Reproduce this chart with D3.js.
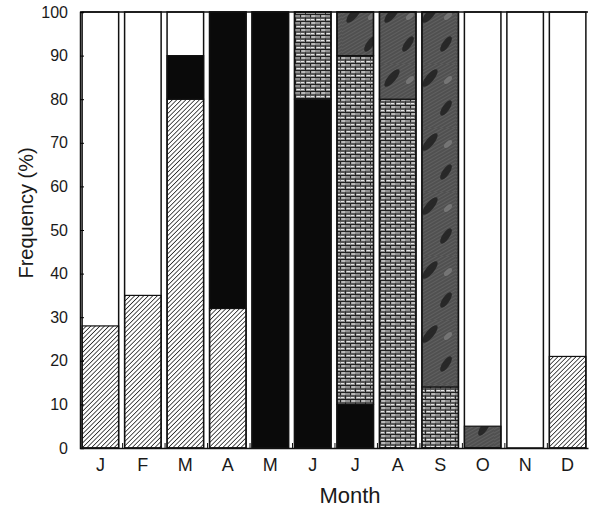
<!DOCTYPE html>
<html>
<head>
<meta charset="utf-8">
<script src="https://cdn.jsdelivr.net/npm/d3@7"></script>
<style>
  body { margin: 0; background: #fff; }
  text { font-family: "Liberation Sans", Arial, sans-serif; fill: #1a1a1a; }
</style>
</head>
<body>
<svg id="chart" width="590" height="510"></svg>
<script>
var months = ["J", "F", "M", "A", "M", "J", "J", "A", "S", "O", "N", "D"]
var hatched = [28, 35, 80, 32, 0, 0, 0, 0, 0, 0, 0, 21]
var black   = [0, 0, 10, 68, 100, 80, 10, 0, 0, 0, 0, 0]
var brick   = [0, 0, 0, 0, 0, 20, 80, 80, 14, 0, 0, 0]
var dark    = [0, 0, 0, 0, 0, 0, 10, 20, 86, 5, 0, 0]
var yTicks = [0, 10, 20, 30, 40, 50, 60, 70, 80, 90, 100]

var margin = { top: 12, bottom: 62, left: 80, right: 2 }
var width = 590, height = 510

var svg = d3.select("#chart")
var defs = svg.append("defs")

// diagonal hatch
var ph = defs.append("pattern").attr("id", "hatch")
    .attr("patternUnits", "userSpaceOnUse").attr("width", 3.2).attr("height", 3.2)
    .attr("patternTransform", "rotate(45)")
ph.append("rect").attr("width", 3.2).attr("height", 3.2).attr("fill", "#fff")
ph.append("line").attr("x1", 0).attr("y1", 0).attr("x2", 0).attr("y2", 3.2)
    .attr("stroke", "#1a1a1a").attr("stroke-width", 1.5)

// brick
var pb = defs.append("pattern").attr("id", "brick")
    .attr("patternUnits", "userSpaceOnUse").attr("width", 10).attr("height", 7)
pb.append("rect").attr("width", 10).attr("height", 7).attr("fill", "#8f8f8f")
pb.append("path").attr("d", "M0,0.5H10M0,4H10M0.5,0V3.5M5.5,3.5V7")
    .attr("stroke", "#222").attr("stroke-width", 1)
pb.append("path").attr("d", "M1.5,2H5M6.5,5.5H10M1,5.5H4")
    .attr("stroke", "#e6e6e6").attr("stroke-width", 1)

// dark grey, fine diagonal texture with soft dark streaks
var pd = defs.append("pattern").attr("id", "dark")
    .attr("patternUnits", "userSpaceOnUse").attr("width", 38).attr("height", 64)
pd.append("rect").attr("width", 38).attr("height", 64).attr("fill", "#5a5a5a")
var pdf = defs.append("pattern").attr("id", "darkfine")
    .attr("patternUnits", "userSpaceOnUse").attr("width", 3).attr("height", 3)
    .attr("patternTransform", "rotate(60)")
pdf.append("rect").attr("width", 3).attr("height", 3).attr("fill", "#505050")
pdf.append("line").attr("x1", 0).attr("y1", 0).attr("x2", 0).attr("y2", 3)
    .attr("stroke", "#707070").attr("stroke-width", 1)
pd.append("rect").attr("width", 38).attr("height", 64).attr("fill", "url(#darkfine)")
pd.append("ellipse").attr("cx", 12).attr("cy", 14).attr("rx", 11).attr("ry", 4)
    .attr("transform", "rotate(-50,12,14)").attr("fill", "#202020").attr("opacity", 0.85)
pd.append("ellipse").attr("cx", 28).attr("cy", 44).attr("rx", 9).attr("ry", 3.5)
    .attr("transform", "rotate(-55,28,44)").attr("fill", "#202020").attr("opacity", 0.85)
pd.append("ellipse").attr("cx", 30).attr("cy", 16).attr("rx", 5).attr("ry", 2.5)
    .attr("transform", "rotate(-45,30,16)").attr("fill", "#888").attr("opacity", 0.6)

var fills = { hatched: "url(#hatch)", black: "#0a0a0a", brick: "url(#brick)", dark: "url(#dark)" }

var xScale = d3.scaleBand()
    .domain(d3.range(months.length))
    .range([margin.left, width - margin.right])
    .paddingInner(0.14)
    .paddingOuter(0.05)

var yScale = d3.scaleLinear()
    .domain([0, 100])
    .range([height - margin.bottom, margin.top])

var rows = months.map((m, i) => ({
    i: i, hatched: hatched[i], black: black[i], brick: brick[i], dark: dark[i]
}))
var keys = ["hatched", "black", "brick", "dark"]
var stacked = d3.stack().keys(keys)(rows)

// white box behind each bar
svg.selectAll(".box")
    .data(rows)
    .join("rect")
    .attr("class", "box")
    .attr("x", d => xScale(d.i))
    .attr("y", yScale(100))
    .attr("width", xScale.bandwidth())
    .attr("height", yScale(0) - yScale(100))
    .attr("fill", "#fff")

svg.selectAll(".layer")
    .data(stacked)
    .join("g")
    .attr("class", "layer")
    .attr("fill", d => fills[d.key])
    .selectAll("rect")
    .data(d => d.filter(s => s[1] > s[0]))
    .join("rect")
    .attr("x", d => xScale(d.data.i))
    .attr("y", d => yScale(d[1]))
    .attr("width", xScale.bandwidth())
    .attr("height", d => yScale(d[0]) - yScale(d[1]))
    .attr("stroke", "#111")
    .attr("stroke-width", 1.2)

// box outline
svg.selectAll(".outline")
    .data(rows)
    .join("rect")
    .attr("class", "outline")
    .attr("x", d => xScale(d.i))
    .attr("y", yScale(100))
    .attr("width", xScale.bandwidth())
    .attr("height", yScale(0) - yScale(100))
    .attr("fill", "none")
    .attr("stroke", "#111")
    .attr("stroke-width", 1.5)

// top frame line
svg.append("line")
    .attr("x1", margin.left).attr("x2", width - margin.right)
    .attr("y1", yScale(100)).attr("y2", yScale(100))
    .attr("stroke", "#111").attr("stroke-width", 1.5)

// small ticks at bar gaps
svg.selectAll(".gaptick")
    .data(d3.range(1, months.length))
    .join("line")
    .attr("class", "gaptick")
    .attr("x1", d => xScale(d) - 2).attr("x2", d => xScale(d) - 2)
    .attr("y1", yScale(0)).attr("y2", yScale(0) - 5)
    .attr("stroke", "#111")

var yAxis = svg.append("g")
    .attr("transform", `translate(${margin.left},0)`)
    .call(d3.axisLeft(yScale).tickValues(yTicks).tickSize(-4).tickPadding(12))
yAxis.select(".domain").attr("stroke", "#111").attr("stroke-width", 1.5)
yAxis.selectAll("text").style("font-size", "16px")

var xAxis = svg.append("g")
    .attr("transform", `translate(0,${yScale(0)})`)
    .call(d3.axisBottom(xScale).tickFormat(i => months[i]).tickSize(0).tickPadding(10))
xAxis.select(".domain").attr("stroke", "#111").attr("stroke-width", 1.5)
xAxis.selectAll("text").style("font-size", "18px")

svg.append("text")
    .attr("text-anchor", "middle")
    .attr("x", 350)
    .attr("y", 503)
    .style("font-size", "22px")
    .text("Month")

svg.append("text")
    .attr("text-anchor", "middle")
    .attr("transform", "translate(33,213) rotate(-90)")
    .style("font-size", "20px")
    .text("Frequency (%)")
</script>
</body>
</html>
